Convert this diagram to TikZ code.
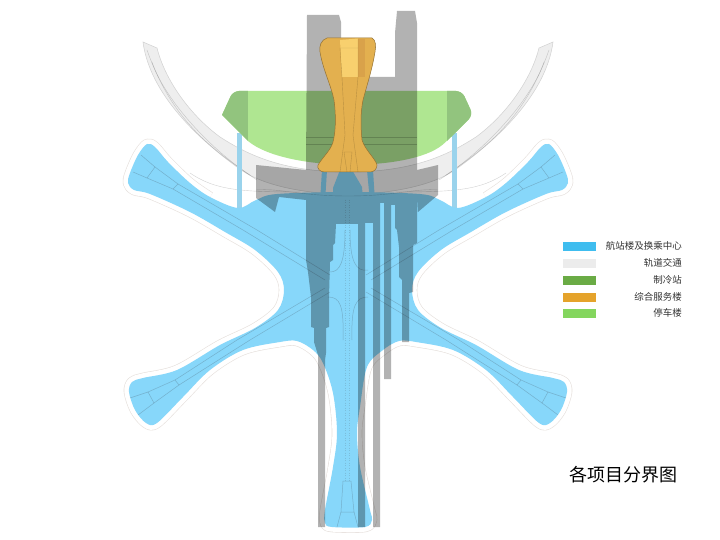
\documentclass[tikz,border=0pt]{standalone}
\usepackage{fontspec}
\newfontfamily\cjk{Noto Sans CJK SC}
\definecolor{bluefill}{HTML}{87D7FA}
\definecolor{bluecol}{HTML}{9AD3EC}
\definecolor{railfill}{HTML}{EEEEEE}
\definecolor{greenfill}{HTML}{AFE691}
\definecolor{greendark}{HTML}{92C47E}
\definecolor{orangefill}{HTML}{E3B04F}
\definecolor{orangelight}{HTML}{F8D06E}
\definecolor{orangedark}{HTML}{D9A24A}
\definecolor{halo}{HTML}{E6E0DC}
\tikzset{
  thinblue/.style={draw=black!70!cyan,opacity=.3,line width=.5pt},
  thingrey/.style={draw=black,opacity=.18,line width=.4pt},
  legendbox/.style={minimum width=33pt,minimum height=9pt,inner sep=0pt},
  legendtext/.style={anchor=east,inner sep=0pt,font=\cjk\fontsize{9.5}{10}\selectfont,text=black!80},
}
\def\haloPts{(210,197)(190,183)(168,162)(155,147)(147,144)(138,155)(130,173)(128,183)(134,190)(150,194)(190,212)(225,232)(255,250)(278,272)(284,290)(278,310)(255,328)(220,345)(177,370)(143,378)(132,382)(129,392)(135,410)(146,423)(157,423)(183,397)(210,370)(243,350)(280,342)(297,341)(313,350)(323,363)(333,393)(337,433)(333,467)(325,510)(325,523)(332,527)(365,527)(372,520)(370,510)(360,467)(357,433)(360,407)(367,367)(383,350)(399,341)(416,342)(453,350)(486,370)(513,397)(539,423)(550,423)(561,410)(567,392)(564,382)(553,378)(519,370)(476,345)(441,328)(418,310)(412,290)(418,272)(441,250)(471,232)(506,212)(546,194)(562,190)(568,183)(566,173)(558,155)(549,144)(541,147)(528,162)(506,183)(486,197)}
\def\railPath{(143,42) -- (157,48) .. controls (165,80) and (190,115) .. (220,137) .. controls (245,153) and (280,172) .. (348,172) -- (348,195) .. controls (300,193) and (260,185) .. (237,167) .. controls (200,140) and (150,95) .. cycle}
\begin{document}
\begin{tikzpicture}[x=1pt,y=-1pt]
\useasboundingbox (0,0) rectangle (720,540);
\fill[white] (0,0) rectangle (720,540);
% halo round the blue arms
\draw[halo,line width=10.5pt,line join=round] plot[smooth,tension=.55] coordinates {\haloPts};
\draw[white,line width=9.3pt,line join=round] plot[smooth,tension=.55] coordinates {\haloPts};
% rail crescent
\path[fill=railfill,draw=black!18,line width=.5pt] \railPath;
\begin{scope}[xshift=696pt,xscale=-1]
\path[fill=railfill,draw=black!18,line width=.5pt] \railPath;
\end{scope}
\draw[thingrey] (152,62) .. controls (165,100) and (210,150) .. (257,180);
\draw[thingrey] (544,62) .. controls (531,100) and (486,150) .. (439,180);
\draw[thingrey] (147,50) .. controls (170,115) and (205,145) .. (250,175);
\draw[thingrey] (549,50) .. controls (526,115) and (491,145) .. (446,175);
% thin lines continuing the halo
\draw[thingrey] (190,173) .. controls (215,190) and (240,192) .. (300,192);
\draw[thingrey] (506,173) .. controls (481,190) and (456,192) .. (396,192);
% vertical blue columns
\fill[bluecol] (237,133) rectangle (242,208);
\fill[bluecol] (452,133) rectangle (457,208);
% blue star
\fill[bluefill] plot[smooth cycle,tension=.55] coordinates {(238,208)\haloPts(458,208)(440,200)(420,194)(348,192)(277,194)(256,200)};
\fill[bluefill] (322,170) -- (327,170) -- (325,202) -- (320,202) -- cycle;
\fill[bluefill] (340,170) -- (352,170) -- (362,187) -- (363,200) -- (333,200) -- (333,188) -- cycle;
\fill[bluefill] (367,170) -- (373,170) -- (375,202) -- (370,202) -- cycle;
% lines inside the arms
\begin{scope}
\draw[thinblue] (155,167) -- (147,178) -- (173,189) -- (178,184) -- cycle;
\draw[thinblue] (141,155) -- (155,167);
\draw[thinblue] (133,172) -- (147,178);
\draw[thinblue] (178,184) -- (257,230) -- (330,275);
\draw[thinblue] (173,189) -- (243,230) -- (325,280);
\draw[thinblue] (148,392) -- (154,403) -- (179,385) -- (175,380) -- cycle;
\draw[thinblue] (130,398) -- (148,392);
\draw[thinblue] (138,415) -- (154,403);
\draw[thinblue] (179,385) -- (250,340) -- (330,292);
\draw[thinblue] (175,380) -- (237,340) -- (325,288);
\draw[thinblue] (541,167) -- (549,178) -- (523,189) -- (518,184) -- cycle;
\draw[thinblue] (555,155) -- (541,167);
\draw[thinblue] (563,172) -- (549,178);
\draw[thinblue] (518,184) -- (439,230) -- (366,275);
\draw[thinblue] (523,189) -- (453,230) -- (371,280);
\draw[thinblue] (548,392) -- (542,403) -- (517,385) -- (521,380) -- cycle;
\draw[thinblue] (566,398) -- (548,392);
\draw[thinblue] (558,415) -- (542,403);
\draw[thinblue] (517,385) -- (446,340) -- (366,292);
\draw[thinblue] (521,380) -- (459,340) -- (371,288);
\draw[thinblue] (343,481) -- (351,481) -- (354,512) -- (341,512) -- cycle;
\draw[thinblue] (341,512) -- (337,527);
\draw[thinblue] (354,512) -- (358,527);
\draw[thinblue,dotted,opacity=.2] (345,200) -- (345,481);
\draw[thinblue,dotted,opacity=.2] (349,200) -- (349,481);
\draw[thinblue] (345,230) .. controls (345,262) and (340,272) .. (330,272);
\draw[thinblue] (350,230) .. controls (350,262) and (356,272) .. (368,270);
\draw[thinblue] (343,340) .. controls (344,305) and (340,297) .. (328,297);
\draw[thinblue] (352,340) .. controls (351,305) and (356,297) .. (368,297);
\end{scope}
% green building
\begin{scope}
\path[clip,rounded corners=6pt] (222,115) -- (233,91) -- (462,91) -- (473,115) -- (447,141) [sharp corners] .. controls (410,172) and (285,172) .. (248,141) -- cycle;
\fill[greenfill] (215,85) rectangle (480,175);
\fill[greendark] (215,85) rectangle (248,175);
\fill[greendark] (447,85) rectangle (480,175);
\end{scope}
% grey translucent towers and band
\fill[black,opacity=.3] (307,15) -- (339,15) -- (341,22) -- (341,77) -- (395,77) -- (395,33) -- (397,11) -- (415,11) -- (417,23) -- (417,170) -- (438,165) -- (438,195) -- (418,212) -- (417,193) -- (417,243) -- (413,245) -- (413,292) -- (409,293) -- (409,342) -- (402,342) -- (402,280) -- (399,277) -- (399,247) -- (397,230) -- (395,228) -- (395,205) -- (391,205) -- (391,379) -- (384,379) -- (384,203) -- (380,203) -- (380,527) -- (373,527) -- (373,223) -- (365,223) -- (365,527) -- (358,527) -- (358,224) -- (336,224) -- (335,243) -- (333,245) -- (333,260) -- (330,262) -- (329,297) -- (329,327) -- (326,328) -- (326,353) -- (325,360) -- (325,527) -- (318,527) -- (318,355) -- (314,342) -- (314,328) -- (311,327) -- (311,297) -- (308,272) -- (306,260) -- (306,200) -- (279,197) -- (275,212) -- (256,198) -- (256,165) -- (306,170) -- cycle;
\draw[thingrey] (256,190) .. controls (280,188) and (300,196) .. (348,196) .. controls (396,196) and (416,188) .. (438,190);
\draw[thingrey] (306,137) -- (341,137) (306,144) -- (333,144) (362,137) -- (417,137) (362,144) -- (417,144);
% orange tower
\path[fill=orangefill,draw=black!35!orangefill,line width=.5pt] (327,38) -- (372,38) .. controls (376,40) and (376,46) .. (375,52) .. controls (372,70) and (367,85) .. (363,100) .. controls (360,115) and (361,130) .. (362,140) .. controls (365,150) and (375,158) .. (377,165) .. controls (377,169) and (374,172) .. (370,172) -- (325,172) .. controls (320,172) and (317,169) .. (318,165) .. controls (322,158) and (331,150) .. (333,142) .. controls (336,130) and (336,115) .. (334,100) .. controls (331,85) and (323,70) .. (320,52) .. controls (319,46) and (321,40) .. cycle;
\fill[orangelight] (340,40) -- (358,38.5) -- (358,77) -- (342,77) -- cycle;
\fill[orangedark] (358,39) rectangle (365,77);
\draw[thingrey] (340,48) -- (358,48) (342,77) -- (340,48) (358,39) -- (358,77);
\draw[thingrey] (342,77) -- (345,135) (358,77) -- (353,135) (345,135) -- (340,172) (353,135) -- (358,172);
\draw[thingrey] (344,152) -- (352,152) (344,152) -- (347,172) (352,152) -- (350,172);
% legend
\node[legendbox,fill={rgb,255:red,63;green,189;blue,239}] (k1) at (579.5,246) {};
\node[legendbox,fill={rgb,255:red,236;green,236;blue,236}] (k2) at (579.5,263) {};
\node[legendbox,fill={rgb,255:red,106;green,171;blue,69}] (k3) at (579.5,280) {};
\node[legendbox,fill={rgb,255:red,229;green,163;blue,43}] (k4) at (579.5,297) {};
\node[legendbox,fill={rgb,255:red,132;green,214;blue,94}] (k5) at (579.5,313) {};
\node[legendtext] (t1) at (682,246) {航站楼及换乘中心};
\node[legendtext] (t2) at (682,263) {轨道交通};
\node[legendtext] (t3) at (682,280) {制冷站};
\node[legendtext] (t4) at (682,297) {综合服务楼};
\node[legendtext] (t5) at (682,313) {停车楼};
\node[anchor=center,inner sep=0pt,font=\cjk\fontsize{18}{20}\selectfont] (title) at (623.5,475) {各项目分界图};
\end{tikzpicture}
\end{document}
